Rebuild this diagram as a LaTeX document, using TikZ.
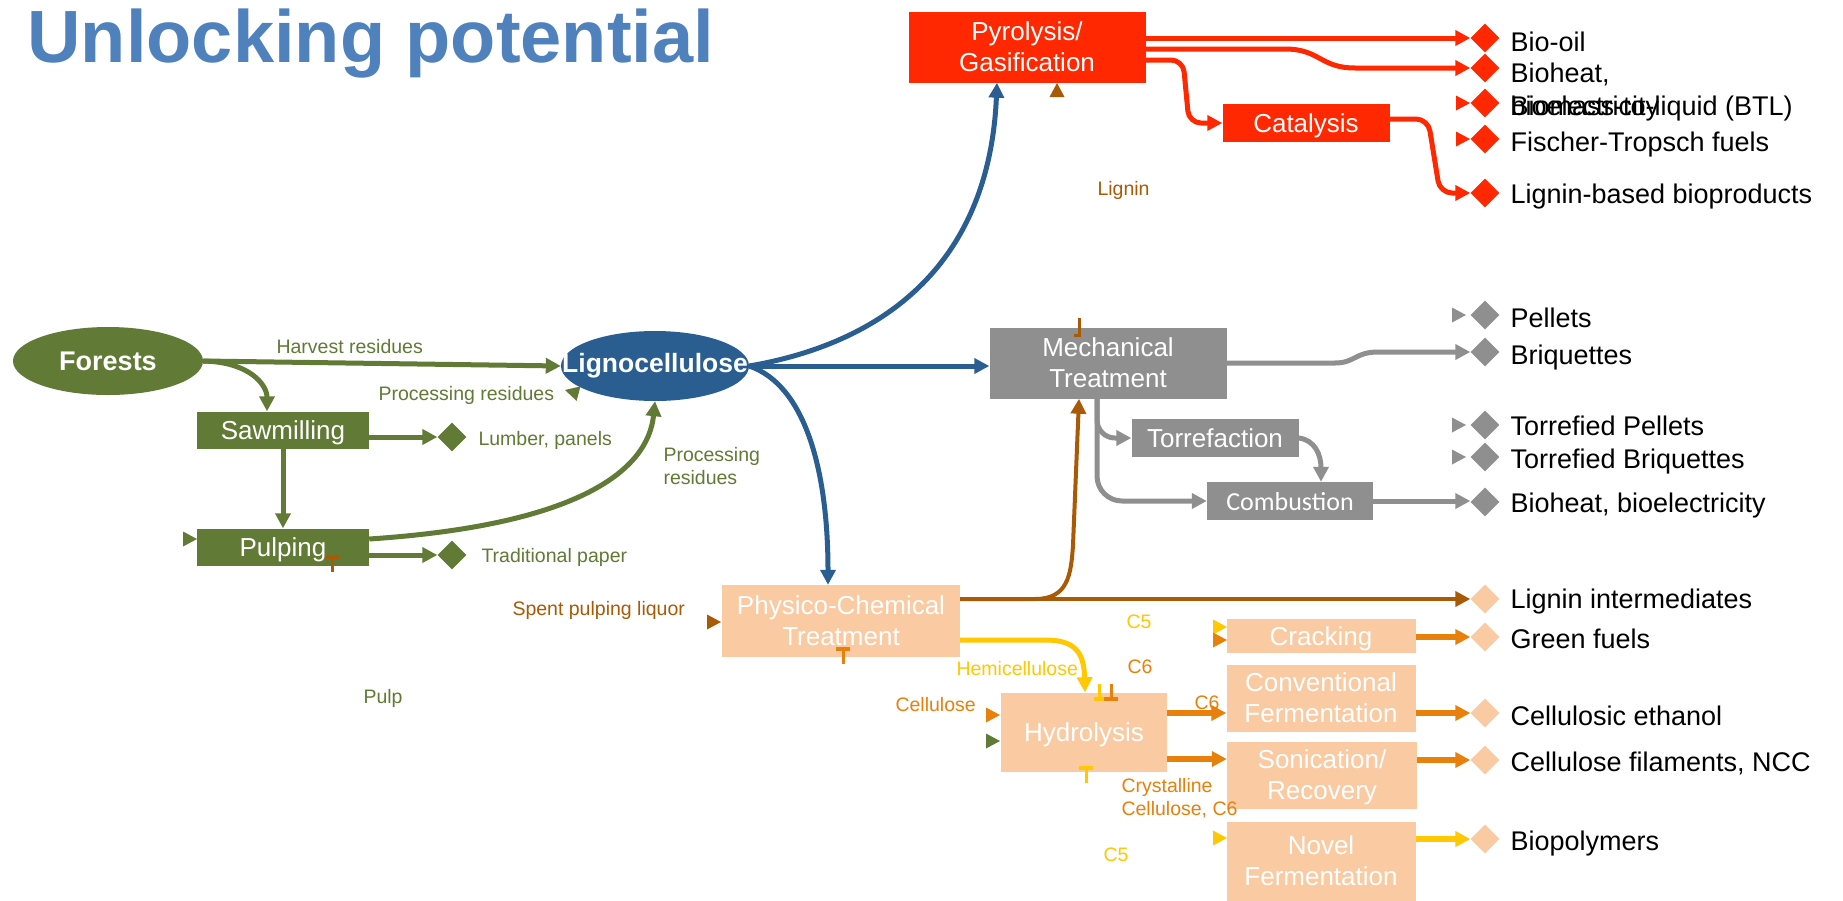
\documentclass[tikz,border=0pt]{standalone}
\usepackage{fontspec}
\setmainfont{Liberation Sans}
\newfontfamily\calib{Carlito}
\usetikzlibrary{arrows.meta,shapes.geometric}
\definecolor{fgreen}{RGB}{97,122,53}
\definecolor{lblue}{RGB}{42,94,145}
\definecolor{pred}{RGB}{255,40,0}
\definecolor{mgray}{RGB}{143,143,143}
\definecolor{peach}{RGB}{250,202,162}
\definecolor{lbrown}{RGB}{168,90,6}
\definecolor{corange}{RGB}{232,128,12}
\definecolor{cyellow}{RGB}{255,200,0}
\definecolor{ttlblue}{RGB}{79,129,189}
\newcommand\pxfont[2]{\fontsize{#1}{#2}\selectfont}
\begin{document}
\begin{tikzpicture}[x=1pt,y=-1pt,
  procbox/.style={rectangle, inner sep=0pt, text depth=0pt, text=white, align=center, font=\pxfont{26}{31}},
  prod/.style={diamond, aspect=1, inner sep=0pt, minimum width=29pt, minimum height=29pt},
  lbl/.style={anchor=base west, align=left, font=\pxfont{27}{33}},
  note/.style={anchor=base west, align=left, font=\pxfont{19.5}{23}},
  con/.style={line width=5pt, -{Triangle[length=15pt,width=15pt]}},
  tipmark/.pic={\fill (0,0) -- (-14,-7.5) -- (-14,7.5) -- cycle;},
  tbar/.pic={\draw[line width=3pt] (0,0) -- (0,16); \draw[line width=4pt] (-7,1) -- (7,1);}]
  \fill[white] (0,0) rectangle (1843,900);
  \useasboundingbox (0,0) rectangle (1843,900);

  \node[anchor=base west, text=ttlblue, font=\bfseries\pxfont{74}{80}] (title) at (24,62) {Unlocking potential};

  \node[ellipse, fill=fgreen, minimum width=190pt, minimum height=68pt, inner sep=0pt, text=white, font=\bfseries\pxfont{27}{32}] (forest) at (108,361) {\makebox[0pt]{Forests}};
  \node[ellipse, fill=lblue, minimum width=188pt, minimum height=70pt, inner sep=0pt, text=white, font=\bfseries\pxfont{26.5}{30}] (ligno) at (655,366) {\makebox[0pt]{Lignocellulose}};
  \node[procbox, fill=fgreen, minimum width=172pt, minimum height=37pt] (sawm) at (283,430) {Sawmilling};
  \node[procbox, fill=fgreen, minimum width=172pt, minimum height=37pt] (pulp) at (283,547) {Pulping};
  \node[procbox, fill=pred, minimum width=237pt, minimum height=71pt] (pyro) at (1027,47) {Pyrolysis/\\Gasification};
  \node[procbox, fill=pred, minimum width=167pt, minimum height=38pt] (cat) at (1306,123) {Catalysis};
  \node[procbox, fill=mgray, minimum width=237pt, minimum height=71pt] (mech) at (1108,363) {Mechanical\\Treatment};
  \node[procbox, fill=mgray, minimum width=167pt, minimum height=38pt] (torr) at (1215,438) {Torrefaction};
  \node[procbox, fill=mgray, minimum width=166pt, minimum height=38pt, font=\calib\pxfont{26}{31}] (comb) at (1290,501) {Combustion};
  \node[procbox, fill=peach, minimum width=238pt, minimum height=72pt] (pct) at (841,621) {Physico-Chemical\\Treatment};
  \node[procbox, fill=peach, minimum width=166pt, minimum height=79pt] (hydro) at (1084,732) {Hydrolysis};
  \node[procbox, fill=peach, minimum width=189pt, minimum height=34pt] (crack) at (1321,636) {Cracking};
  \node[procbox, fill=peach, minimum width=189pt, minimum height=67pt] (conv) at (1321,698) {Conventional\\Fermentation};
  \node[procbox, fill=peach, minimum width=190pt, minimum height=67pt] (soni) at (1322,775) {Sonication/\\Recovery};
  \node[procbox, fill=peach, minimum width=189pt, minimum height=79pt] (novel) at (1321,861) {Novel\\Fermentation};

  \node[prod, fill=fgreen] (lum) at (452,437) {};
  \node[prod, fill=fgreen] (tpap) at (452,555) {};
  \node[prod, fill=pred] (bo) at (1485,38) {};
  \node[prod, fill=pred] (bh) at (1485,68) {};
  \node[prod, fill=pred] (btl) at (1485,103) {};
  \node[prod, fill=pred] (ft) at (1485,139) {};
  \node[prod, fill=pred] (lbp) at (1485,193) {};
  \node[prod, fill=mgray] (pel) at (1485,315) {};
  \node[prod, fill=mgray] (bri) at (1485,352) {};
  \node[prod, fill=mgray] (tpel) at (1485,425) {};
  \node[prod, fill=mgray] (tbri) at (1485,457) {};
  \node[prod, fill=mgray] (bhe) at (1485,502) {};
  \node[prod, fill=peach] (lint) at (1485,599) {};
  \node[prod, fill=peach] (gfu) at (1485,637) {};
  \node[prod, fill=peach] (ceth) at (1485,713) {};
  \node[prod, fill=peach] (ncc) at (1485,760) {};
  \node[prod, fill=peach] (bpol) at (1485,839) {};

  \node[lbl] (tbo) at (1507,51) {Bio-oil};
  \node[lbl] (tbh) at (1507,115) {Bioheat,\\bioelectricity};
  \node[lbl] (tbtl) at (1507,115) {Biomass-to-liquid (BTL)};
  \node[lbl] (tft) at (1507,151) {Fischer-Tropsch fuels};
  \node[lbl] (tlbp) at (1507,203) {Lignin-based bioproducts};
  \node[lbl] (tpel) at (1507,327) {Pellets};
  \node[lbl] (tbri) at (1507,364) {Briquettes};
  \node[lbl] (ttpel) at (1507,435) {Torrefied Pellets};
  \node[lbl] (ttbri) at (1507,468) {Torrefied Briquettes};
  \node[lbl] (tbhe) at (1507,512) {Bioheat, bioelectricity};
  \node[lbl] (tlint) at (1507,608) {Lignin intermediates};
  \node[lbl] (tgfu) at (1507,648) {Green fuels};
  \node[lbl] (tceth) at (1507,725) {Cellulosic ethanol};
  \node[lbl] (tncc) at (1507,771) {Cellulose filaments, NCC};
  \node[lbl] (tbpol) at (1507,850) {Biopolymers};

  \node[note, text=fgreen] (harv) at (273,353) {Harvest residues};
  \node[note, text=fgreen] (pres1) at (375,400) {Processing residues};
  \node[note, text=fgreen] (pres2) at (660,484) {Processing\\residues};
  \node[note, text=fgreen] (tlum) at (475,445) {Lumber, panels};
  \node[note, text=fgreen] (ttpap) at (478,562) {Traditional paper};
  \node[note, text=fgreen] (pulpl) at (360,703) {Pulp};
  \node[note, text=lbrown] (spl) at (509,615) {Spent pulping liquor};
  \node[note, text=lbrown] (lig) at (1094,195) {Lignin};
  \node[note, text=cyellow] (hemi) at (953,675) {Hemicellulose};
  \node[note, text=cyellow] (c5a) at (1123,628) {C5};
  \node[note, text=corange] (c6a) at (1124,673) {C6};
  \node[note, text=corange] (cell) at (892,711) {Cellulose};
  \node[note, text=corange] (c6b) at (1191,709) {C6};
  \node[note, text=corange] (cryst) at (1118,815) {Crystalline\\Cellulose, C6};
  \node[note, text=cyellow] (c5b) at (1100,861) {C5};

  \draw[con, fgreen] (forest.east) -- (ligno.west);
  \draw[con, fgreen] (forest.east) .. controls (250,362) and (267,385) .. ([xshift=-16pt]sawm.north);
  \draw[con, fgreen] (sawm.south) -- (pulp.north);
  \draw[con, fgreen] (sawm.east |- lum) -- (lum.west);
  \draw[con, fgreen] (pulp.east |- tpap) -- (tpap.west);
  \draw[con, fgreen] ([yshift=8pt]pulp.east) .. controls (580,525) and (648,470) .. (ligno.south);

  \draw[con, lblue] (ligno.east) -- (ligno.east -| mech.west);
  \draw[con, lblue] (ligno.east) .. controls (900,340) and (990,250) .. ([xshift=-30pt]pyro.south);
  \draw[con, lblue] (ligno.east) .. controls (805,385) and (828,470) .. ([xshift=-13pt]pct.north);

  \draw[con, pred] ([yshift=9pt]pyro.east) -- (bo.west);
  \draw[con, pred] ([yshift=-2pt]pyro.east) -- (1285,49) .. controls (1320,49) and (1320,68) .. (1355,68) -- (bh.west);
  \draw[con, pred, rounded corners=12pt] ([yshift=-13pt]pyro.east) -- (1183,60) -- (1189,123) -- (cat.west);
  \draw[con, pred, rounded corners=12pt] ([yshift=4pt]cat.east) -- (1428,119) -- (1440,193) -- (lbp.west);

  \draw[con, mgray] (mech.east) -- (1335,363) .. controls (1355,363) and (1355,352) .. (1378,352) -- (bri.west);
  \draw[con, mgray, rounded corners=18pt] ([xshift=-11pt]mech.south) -- (1097,438) -- (torr.west);
  \draw[con, mgray, rounded corners=25pt] ([xshift=-11pt]mech.south) -- (1097,501) -- (comb.west);
  \draw[con, mgray] (torr.east) .. controls (1315,440) and (1321,455) .. ([xshift=31pt]comb.north);
  \draw[con, mgray] (comb.east) -- (comb.east -| bhe.west);

  \draw[con, lbrown, line width=4pt] (pct.east |- lint) -- (lint.west);
  \draw[con, lbrown, line width=4pt] (pct.east |- lint) -- (1035,599) .. controls (1068,599) and (1071,575) .. (1073,545) -- ([xshift=-29pt]mech.south);

  \draw[con, cyellow] ([yshift=-19pt]pct.east) -- (1045,640) .. controls (1075,640) and (1084,652) .. ([xshift=1pt]hydro.north);
  \draw[con, corange, line width=6pt] ([yshift=19pt]hydro.east) -- ([yshift=19pt]hydro.east -| conv.west);
  \draw[con, corange, line width=6pt] ([yshift=-27pt]hydro.east) -- ([yshift=-27pt]hydro.east -| soni.west);
  \draw[con, corange, line width=6pt] (crack.east |- gfu) -- (gfu.west);
  \draw[con, corange, line width=6pt] (conv.east |- ceth) -- (ceth.west);
  \draw[con, corange, line width=6pt] (soni.east |- ncc) -- (ncc.west);
  \draw[con, cyellow, line width=6pt] (novel.east |- bpol) -- (bpol.west);

  \pic[fgreen] at (197,539) {tipmark};
  \pic[fgreen, rotate=165] at (565,390) {tipmark};
  \pic[lbrown] at (721,622) {tipmark};
  \pic[lbrown, rotate=90] at (1057,83) {tipmark};
  \pic[pred] at (1470,103) {tipmark};
  \pic[pred] at (1470,139) {tipmark};
  \pic[mgray] at (1466,315) {tipmark};
  \pic[mgray] at (1466,425) {tipmark};
  \pic[mgray] at (1466,457) {tipmark};
  \pic[corange] at (1000,715) {tipmark};
  \pic[fgreen] at (1000,741) {tipmark};
  \pic[cyellow] at (1227,627) {tipmark};
  \pic[corange] at (1227,640) {tipmark};
  \pic[cyellow] at (1227,838) {tipmark};

  \pic[lbrown] at (332,556) {tbar};
  \pic[corange] at (843,648) {tbar};
  \pic[cyellow] at (1086,767) {tbar};
  \pic[cyellow, rotate=180, xscale=0.7] at (1099,700) {tbar};
  \pic[corange, rotate=180] at (1111,700) {tbar};
  \draw[lbrown, line width=3pt] (1079,318) -- (1079,335) -- (1074,335);
\end{tikzpicture}
\end{document}
